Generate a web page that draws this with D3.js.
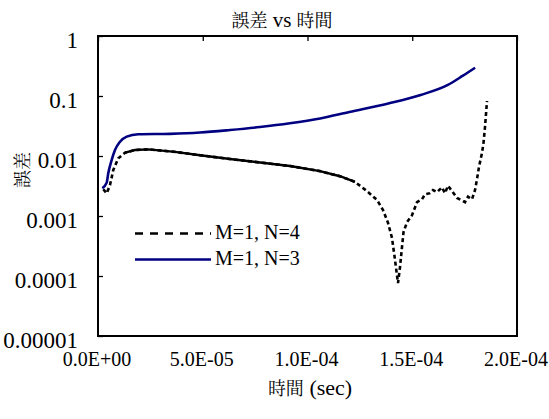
<!DOCTYPE html>
<html>
<head>
<meta charset="utf-8">
<script src="https://cdn.jsdelivr.net/npm/d3@7"></script>
</head>
<body style="margin:0; background:#fff">
<div id="chart"></div>
<script>
// M=1, N=4 (black dashed)
const timeN4 = [2.53e-6, 4.15e-6, 5.73e-6, 7.30e-6, 9.69e-6, 1.289e-5, 1.766e-5, 2.40e-5, 3.04e-5, 3.675e-5,
    4.869e-5, 6.301e-5, 7.733e-5, 9.165e-5, 1.0597e-4, 1.1551e-4, 1.2267e-4, 1.284e-4, 1.3318e-4, 1.3604e-4,
    1.3843e-4, 1.4034e-4, 1.4177e-4, 1.432e-4, 1.4416e-4, 1.4511e-4, 1.4583e-4, 1.475e-4, 1.4989e-4, 1.5228e-4,
    1.5466e-4, 1.5609e-4, 1.5847e-4, 1.599e-4, 1.6181e-4, 1.642e-4, 1.6563e-4, 1.6707e-4, 1.6898e-4, 1.7137e-4,
    1.7375e-4, 1.7518e-4, 1.7661e-4, 1.7852e-4, 1.7995e-4, 1.809e-4, 1.8186e-4, 1.833e-4, 1.840e-4, 1.8473e-4, 1.8568e-4];
const errN4 = [0.00279, 0.00239, 0.00329, 0.00585, 0.00916, 0.01135, 0.0126, 0.0129, 0.0123, 0.0117,
    0.0103, 0.0089, 0.0078, 0.0068, 0.0056, 0.0046, 0.0037, 0.0026, 0.00185, 0.00126,
    0.00077, 0.00043, 0.000185, 0.000076, 0.000141, 0.000305, 0.00054, 0.00079, 0.00103, 0.0017,
    0.0019, 0.0023, 0.0024, 0.0027, 0.0025, 0.0030, 0.0024, 0.0032, 0.0026, 0.0020,
    0.0018, 0.0017, 0.0021, 0.0019, 0.0027, 0.0041, 0.0066, 0.0113, 0.0164, 0.0305, 0.0826];

// M=1, N=3 (navy solid)
const timeN3 = [2.05e-6, 4.15e-6, 4.92e-6, 6.54e-6, 8.11e-6, 1.05e-5, 1.37e-5, 1.92e-5, 3.44e-5, 4.87e-5,
    6.30e-5, 7.73e-5, 9.16e-5, 1.06e-4, 1.20e-4, 1.39e-4, 1.54e-4, 1.67e-4, 1.74e-4, 1.80e-4];
const errN3 = [0.0029, 0.0036, 0.0052, 0.0086, 0.0126, 0.0173, 0.0210, 0.0230, 0.0234, 0.0246,
    0.0271, 0.0304, 0.0351, 0.0422, 0.0541, 0.0755, 0.104, 0.153, 0.216, 0.296];

const seriesNames = ["M=1, N=4", "M=1, N=3"];

const xTicks = [0, 5e-5, 1e-4, 1.5e-4, 2e-4];
const xTickLabels = ["0.0E+00", "5.0E-05", "1.0E-04", "1.5E-04", "2.0E-04"];
const yTicks = [1, 0.1, 0.01, 0.001, 0.0001, 0.00001];
const yTickLabels = ["1", "0.1", "0.01", "0.001", "0.0001", "0.00001"];

// the N=4 curve looks solid where its points are dense
const solidRangeN4 = [1.28e-5, 1.23e-4];

// one family per text, a list falls back to a sans face here
const LATIN = "Liberation Serif";
const CJK = "Noto Serif CJK TC";

const width = 549;
const height = 419;
const plot = { left: 98, top: 36, right: 517, bottom: 336 };

const svg = d3.select("#chart")
    .append("svg")
    .attr("width", width)
    .attr("height", height);

const xScale = d3.scaleLinear()
    .domain([0, 2e-4])
    .range([plot.left, plot.right]);

const yScale = d3.scaleLog()
    .domain([1e-5, 1])
    .range([plot.bottom, plot.top]);

// Title
const title = svg.append("text")
    .attr("x", 282)
    .attr("y", 27)
    .attr("text-anchor", "middle");
title.append("tspan").style("font-family", CJK).style("font-size", "18px").text("誤差");
title.append("tspan").style("font-family", LATIN).style("font-size", "21px").text(" vs ");
title.append("tspan").style("font-family", CJK).style("font-size", "18px").text("時間");

// tick marks, inside the frame (x ticks hang from the top edge)
const topTicks = svg.append("g")
    .attr("transform", `translate(0,${plot.top})`)
    .call(d3.axisBottom(xScale).tickValues(xTicks).tickSize(5).tickFormat(""));
topTicks.select(".domain").remove();
topTicks.selectAll("line").attr("stroke-width", 1.3);

const leftTicks = svg.append("g")
    .attr("transform", `translate(${plot.left},0)`)
    .call(d3.axisRight(yScale).tickValues(yTicks).tickSize(5).tickFormat(""));
leftTicks.select(".domain").remove();
leftTicks.selectAll("line").attr("stroke-width", 1.3);

// tick labels
const xLabels = svg.append("g")
    .attr("transform", `translate(0,${plot.bottom})`)
    .call(d3.axisBottom(xScale).tickValues(xTicks).tickSize(0)
        .tickFormat((d, i) => xTickLabels[i]));
xLabels.attr("font-family", LATIN);
xLabels.select(".domain").remove();
xLabels.selectAll("text")
    .attr("x", -1.5)
    .attr("y", 30)
    .attr("dy", null)
    .style("font-family", LATIN)
    .style("font-size", "20px");

const yLabels = svg.append("g")
    .attr("transform", `translate(${plot.left},0)`)
    .call(d3.axisLeft(yScale).tickValues(yTicks).tickSize(0).tickPadding(20)
        .tickFormat((d, i) => yTickLabels[i]));
yLabels.attr("font-family", LATIN);
yLabels.select(".domain").remove();
yLabels.selectAll("text")
    .attr("dy", "0.5em")
    .style("font-family", LATIN)
    .style("font-size", "23px");

// axis titles
const xTitle = svg.append("text")
    .attr("x", 310)
    .attr("y", 395)
    .attr("text-anchor", "middle");
xTitle.append("tspan").style("font-family", CJK).style("font-size", "18px").text("時間");
xTitle.append("tspan").style("font-family", LATIN).style("font-size", "22px").text(" (sec)");

svg.append("text")
    .attr("transform", "translate(29,170) rotate(-90)")
    .attr("text-anchor", "middle")
    .style("font-family", CJK)
    .style("font-size", "18px")
    .text("誤差");

// series
const dataN4 = timeN4.map((t, i) => ({ t: t, v: errN4[i] }));
const dataN3 = timeN3.map((t, i) => ({ t: t, v: errN3[i] }));

const line = d3.line()
    .x(d => xScale(d.t))
    .y(d => yScale(d.v));

const smoothLine = d3.line()
    .x(d => xScale(d.t))
    .y(d => yScale(d.v))
    .curve(d3.curveMonotoneX);

svg.append("path")
    .datum(dataN4)
    .attr("fill", "none")
    .attr("stroke", "#000")
    .attr("stroke-width", 2.6)
    .attr("stroke-dasharray", "4,3")
    .attr("d", line);

svg.append("path")
    .datum(dataN4.filter(d => d.t >= solidRangeN4[0] && d.t <= solidRangeN4[1]))
    .attr("fill", "none")
    .attr("stroke", "#000")
    .attr("stroke-width", 2.4)
    .attr("d", line);

svg.append("path")
    .datum(dataN3)
    .attr("fill", "none")
    .attr("stroke", "#000080")
    .attr("stroke-width", 2.6)
    .attr("d", smoothLine);

// frame
svg.append("rect")
    .attr("x", plot.left)
    .attr("y", plot.top)
    .attr("width", plot.right - plot.left)
    .attr("height", plot.bottom - plot.top)
    .attr("fill", "none")
    .attr("stroke", "#000")
    .attr("stroke-width", 2);

// legend
const legendStyles = [
    { stroke: "#000", dash: "8,7" },
    { stroke: "#000080", dash: null }
];
const legend = svg.append("g");
seriesNames.forEach((name, i) => {
    const ly = 233.5 + i * 26;
    legend.append("line")
        .attr("x1", 135)
        .attr("x2", 211)
        .attr("y1", ly)
        .attr("y2", ly)
        .attr("stroke", legendStyles[i].stroke)
        .attr("stroke-width", 2.6)
        .attr("stroke-dasharray", legendStyles[i].dash);
    legend.append("text")
        .attr("x", 215)
        .attr("y", ly + 5.5)
        .style("font-family", LATIN)
        .style("font-size", "20px")
        .text(name);
});
</script>
</body>
</html>
